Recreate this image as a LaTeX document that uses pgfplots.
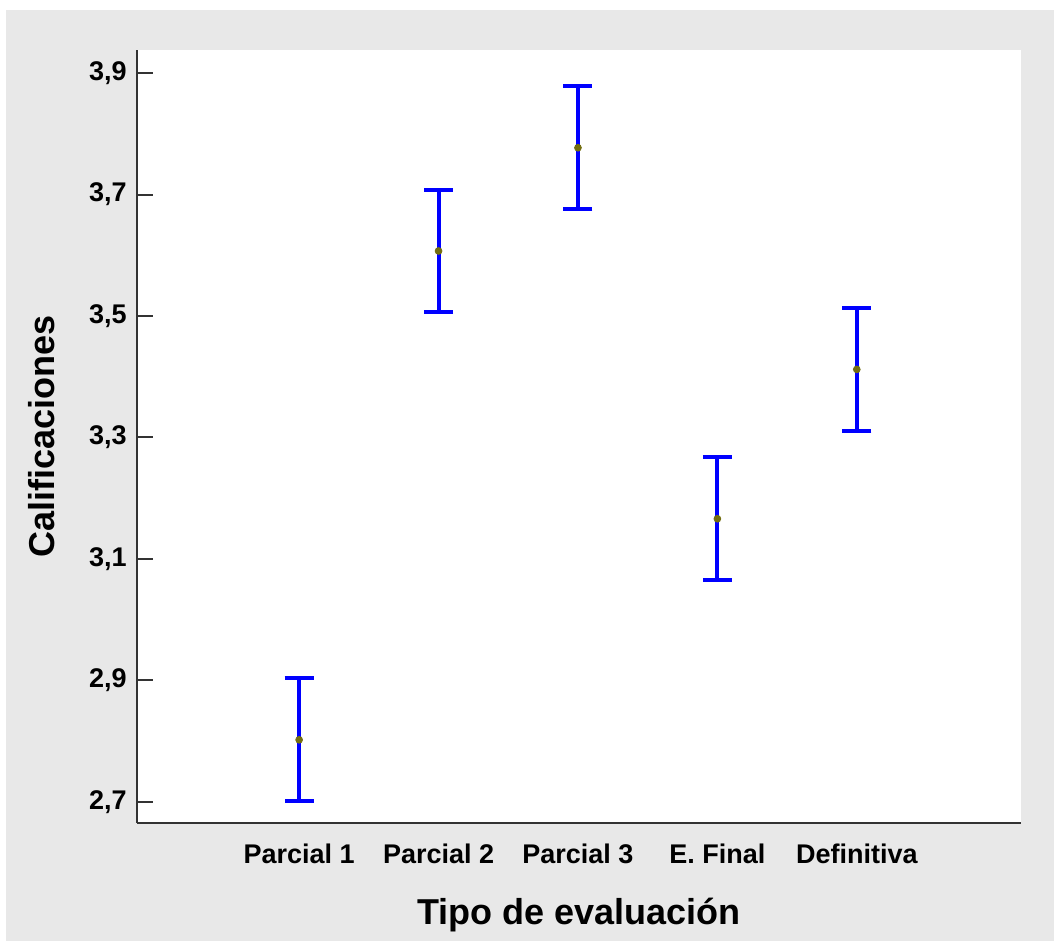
\documentclass[border=0pt]{standalone}
\usepackage{pgfplots}
\pgfplotsset{compat=1.18}
\usepackage{fontspec}
\setmainfont{Liberation Sans}

\definecolor{panel}{HTML}{E8E8E8}
\definecolor{axisgray}{HTML}{333333}
\definecolor{meandot}{RGB}{115,110,15}

% means and half-widths of the intervals, by evaluation type
\pgfplotstableread{
x  mean   err
0  2.802  0.101
1  3.607  0.101
2  3.777  0.101
3  3.166  0.101
4  3.412  0.101
}\califdata

\begin{document}
\begin{tikzpicture}
  % page frame and grey panel
  \useasboundingbox (-68.5pt,-59pt) rectangle (458.5pt,411.5pt);
  \fill[white] (-68.5pt,-59pt) rectangle (458.5pt,411.5pt);
  \fill[panel] (-65.5pt,-59pt) rectangle (458.5pt,406.5pt);
  \begin{axis}[
    at={(0pt,0pt)}, anchor=south west,
    scale only axis,
    width=442pt, height=386.5pt,
    axis background/.style={fill=white},
    axis lines=left,
    axis line style={-, line width=1pt, draw=axisgray},
    xmin=-1.163, xmax=5.178,
    ymin=2.665, ymax=3.938,
    xtick={0,1,2,3,4},
    xticklabels={Parcial 1, Parcial 2, Parcial 3, E. Final, Definitiva},
    xtick style={draw=none},
    ytick={2.7,2.9,3.1,3.3,3.5,3.7,3.9},
    ytick style={line width=1pt, draw=axisgray},
    tick align=inside,
    major tick length=8pt,
    /pgf/number format/.cd, use comma, fixed, fixed zerofill, precision=1, assume math mode=true,
    /pgfplots/.cd,
    tick label style={font=\bfseries\fontsize{13.5}{15}\selectfont},
    xticklabel style={anchor=base, yshift=-20.5pt},
    yticklabel style={anchor=east, inner sep=0pt, xshift=-5pt},
    label style={font=\bfseries\fontsize{18}{20}\selectfont},
    xlabel={Tipo de evaluación},
    ylabel={Calificaciones},
    xlabel style={at={([yshift=-51pt]axis description cs:0.5,0)}, anchor=base},
    ylabel style={at={([xshift=-41pt]axis description cs:0,0.5)}, anchor=base, rotate=0},
    clip=false,
  ]
    % interval bars
    \addplot[draw=none, mark=none,
      error bars/.cd, y dir=both, y explicit,
      error bar style={blue, line width=2pt},
      error mark options={rotate=90, mark size=7.25pt, line width=2pt, blue}]
      table[x=x, y=mean, y error=err] {\califdata};
    % means
    \addplot[only marks, mark=*, mark size=1.7pt, color=meandot]
      table[x=x, y=mean] {\califdata};
  \end{axis}
\end{tikzpicture}
\end{document}
